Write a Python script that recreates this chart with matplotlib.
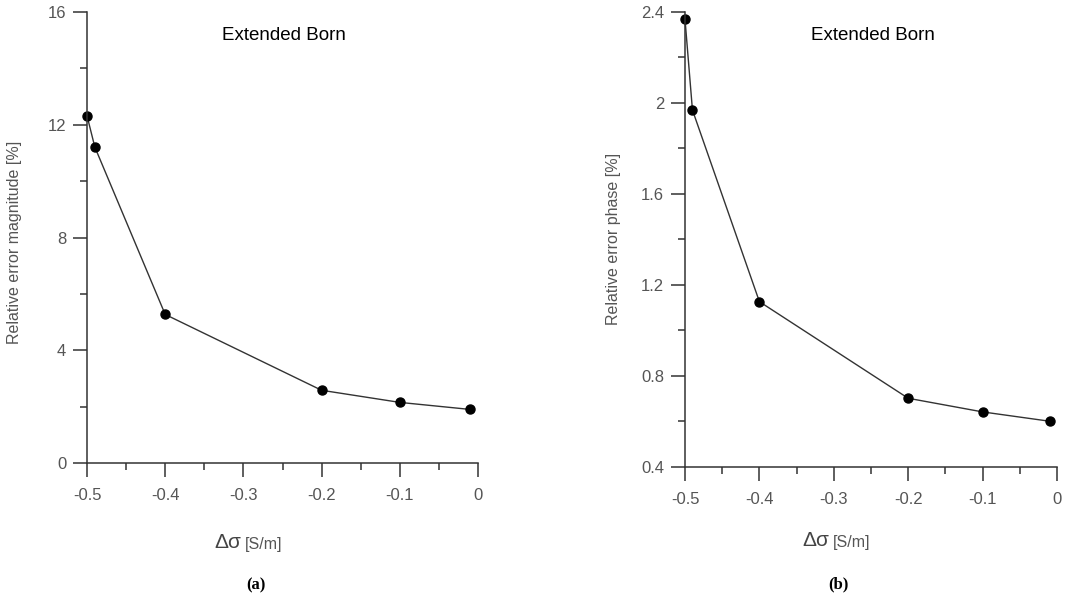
import numpy as np
import matplotlib
matplotlib.use("Agg")
import matplotlib.pyplot as plt
from matplotlib.ticker import MultipleLocator, FuncFormatter

plt.rcParams['font.family'] = ['Liberation Sans', 'DejaVu Sans']
plt.rcParams['axes.unicode_minus'] = False

# data
delta_sigma = [-0.5, -0.49, -0.4, -0.2, -0.1, -0.01]
err_magnitude = [12.32, 11.21, 5.27, 2.58, 2.15, 1.90]
err_phase = [2.368, 1.969, 1.126, 0.701, 0.641, 0.600]

W, H = 1078, 601
fig = plt.figure(figsize=(W / 100, H / 100), dpi=100)

grey = '#555555'
dark = '#333333'


def px(x, y):
    return x / W, 1 - y / H


def setup(ax, ylim, ymaj, ymin):
    for s in ['top', 'right']:
        ax.spines[s].set_visible(False)
    for s in ['left', 'bottom']:
        ax.spines[s].set_color(dark)
        ax.spines[s].set_linewidth(1.1)
    ax.set_xlim(-0.5, 0)
    ax.set_ylim(*ylim)
    ax.xaxis.set_major_locator(MultipleLocator(0.1))
    ax.xaxis.set_minor_locator(MultipleLocator(0.05))
    ax.yaxis.set_major_locator(MultipleLocator(ymaj))
    ax.yaxis.set_minor_locator(MultipleLocator(ymin))
    fmt = FuncFormatter(lambda v, p: '%g' % round(v, 3))
    ax.xaxis.set_major_formatter(fmt)
    ax.yaxis.set_major_formatter(fmt)
    ax.tick_params(which='major', direction='out', length=10, width=1.1,
                   color=dark, labelcolor=grey, labelsize=12)
    ax.tick_params(which='minor', direction='out', length=5, width=1.1, color=dark)
    ax.tick_params(axis='x', which='major', pad=8)
    ax.tick_params(axis='y', which='major', pad=5)


# (a) magnitude
ax1 = fig.add_axes([87 / W, 1 - 463 / H, (478 - 87) / W, (463 - 12) / H])
ax1.plot(delta_sigma, err_magnitude, '-', color=dark, lw=1.0,
         marker='o', ms=6.5, mfc='black', mec='black', clip_on=False)
setup(ax1, (0, 16), 4, 2)
ax1.set_ylabel('Relative error magnitude [%]', color=grey, fontsize=11.5)
ax1.yaxis.set_label_coords(-0.165, 0.49)
fig.text(*px(284, 35), 'Extended Born', ha='center', va='center', fontsize=13.5, color='black')

# (b) phase
ax2 = fig.add_axes([685 / W, 1 - 466.7 / H, (1057 - 685) / W, (466.7 - 12) / H])
ax2.plot(delta_sigma, err_phase, '-', color=dark, lw=1.0,
         marker='o', ms=6.5, mfc='black', mec='black', clip_on=False)
setup(ax2, (0.4, 2.4), 0.4, 0.2)
ax2.set_ylabel('Relative error phase [%]', color=grey, fontsize=11.5)
ax2.yaxis.set_label_coords(-0.171, 0.5)
fig.text(*px(873, 35), 'Extended Born', ha='center', va='center', fontsize=13.5, color='black')

# x labels: big delta sigma + small unit
for xb, yb in [(243, 543), (831, 541)]:
    fig.text(*px(xb - 2, yb), 'Δσ', ha='right', va='center', fontsize=15, color='#444444')
    fig.text(*px(xb + 2, yb + 1), '[S/m]', ha='left', va='center', fontsize=11.5, color=grey)

fig.text(*px(256, 585), '(a)', ha='center', va='center', fontsize=12,
         fontweight='bold', family=['Liberation Serif', 'DejaVu Serif'])
fig.text(*px(838, 584), '(b)', ha='center', va='center', fontsize=12,
         fontweight='bold', family=['Liberation Serif', 'DejaVu Serif'])

fig.savefig('out.png', dpi=100)
